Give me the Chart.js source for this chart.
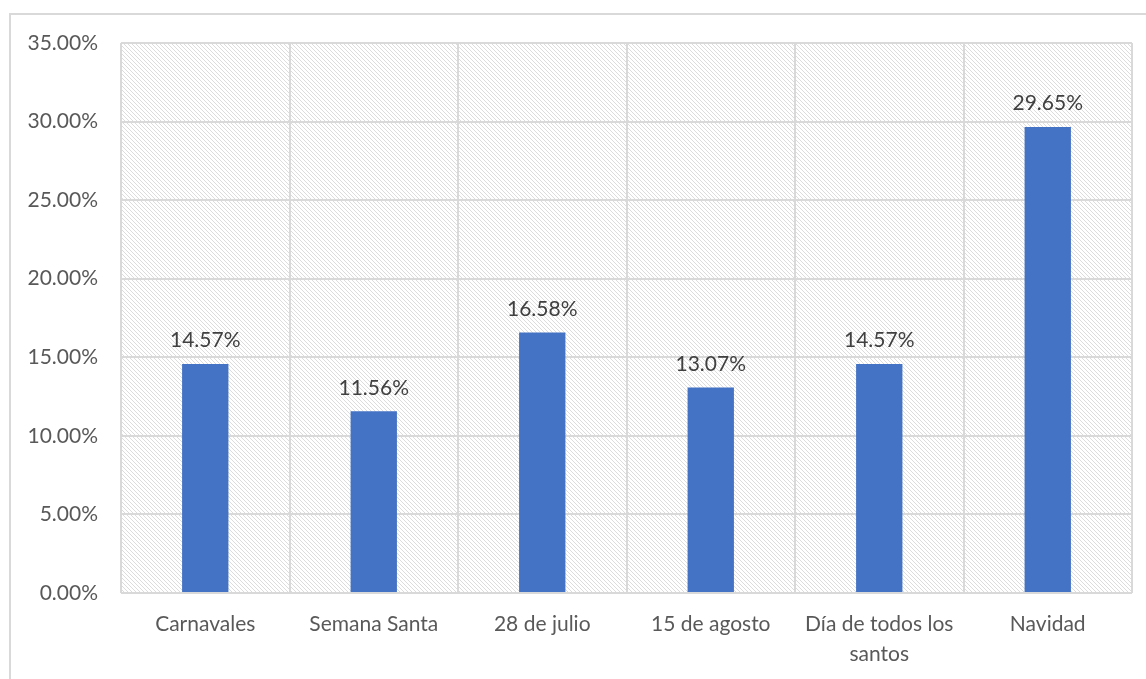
<!DOCTYPE html>
<html lang="es">
<head>
<meta charset="UTF-8"/>
<title>Festividades</title>
<script src="https://cdn.jsdelivr.net/npm/chart.js"></script>
<style>
  * { box-sizing: border-box; margin: 0; padding: 0; }
  html, body { width: 1146px; height: 679px; background: #fff; overflow: hidden; }
  .frame { position: absolute; left: 9px; top: 13px; width: 1200px; height: 700px;
           border-left: 2px solid #d9d9d9; border-top: 2px solid #d9d9d9; }
  .wrap { position: absolute; left: 0; top: 0; width: 1146px; height: 679px; }
</style>
</head>
<body>
<div class="frame"></div>
<div class="wrap"><canvas id="c"></canvas></div>
<script>
  // data
  const categories = ['Carnavales', 'Semana Santa', '28 de julio', '15 de agosto', ['Día de todos los', 'santos'], 'Navidad'];
  const values     = [14.57, 11.56, 16.58, 13.07, 14.57, 29.65];
  const yTicks     = [0, 5, 10, 15, 20, 25, 30, 35];

  const FONT = 'Lato, "Open Sans", sans-serif';

  // diagonal hatch used behind the plot
  function hatch() {
    const t = document.createElement('canvas');
    t.width = 4; t.height = 4;
    const g = t.getContext('2d');
    g.fillStyle = '#ffffff';
    g.fillRect(0, 0, 4, 4);
    g.fillStyle = '#dcdcdc';
    for (let i = 0; i < 4; i++) g.fillRect(i, i, 1, 1);
    return g.createPattern(t, 'repeat');
  }

  const plotBg = {
    id: 'plotBg',
    beforeDraw(chart) {
      const { ctx, chartArea: a } = chart;
      ctx.save();
      ctx.fillStyle = hatch();
      ctx.fillRect(a.left, a.top, a.right - a.left, a.bottom - a.top);
      ctx.restore();
    }
  };

  const barLabels = {
    id: 'barLabels',
    afterDatasetsDraw(chart) {
      const { ctx } = chart;
      const meta = chart.getDatasetMeta(0);
      ctx.save();
      ctx.font = '21px ' + FONT;
      ctx.fillStyle = '#404040';
      ctx.textAlign = 'center';
      ctx.textBaseline = 'bottom';
      meta.data.forEach((bar, i) => {
        ctx.fillText(values[i].toFixed(2) + '%', bar.x, bar.y - 13);
      });
      ctx.restore();
    }
  };

  new Chart(document.getElementById('c'), {
    type: 'bar',
    data: {
      labels: categories,
      datasets: [{
        data: values,
        backgroundColor: '#4472C4',
        borderWidth: 0,
        barPercentage: 0.55,
        categoryPercentage: 0.5
      }]
    },
    options: {
      responsive: true,
      maintainAspectRatio: false,
      animation: false,
      events: [],
      layout: { padding: { top: 43, right: 14, left: 0, bottom: 0 } },
      plugins: { legend: { display: false }, tooltip: { enabled: false } },
      scales: {
        y: {
          min: 0, max: 35,
          afterBuildTicks: s => { s.ticks = yTicks.map(v => ({ value: v })); },
          afterFit: s => { s.width = 121; },
          ticks: {
            padding: 23,
            color: '#595959',
            font: { family: FONT, size: 21 },
            callback: v => v.toFixed(2) + '%'
          },
          grid: { color: '#d9d9d9', lineWidth: 2, drawTicks: false },
          border: { display: false }
        },
        x: {
          afterFit: s => { s.height = 86; },
          ticks: {
            padding: 17,
            color: '#595959',
            font: { family: FONT, size: 21, lineHeight: 1.4 },
            maxRotation: 0
          },
          grid: { offset: true, color: '#d9d9d9', lineWidth: 2, drawTicks: false },
          border: { display: false }
        }
      }
    },
    plugins: [plotBg, barLabels]
  });
</script>
</body>
</html>
